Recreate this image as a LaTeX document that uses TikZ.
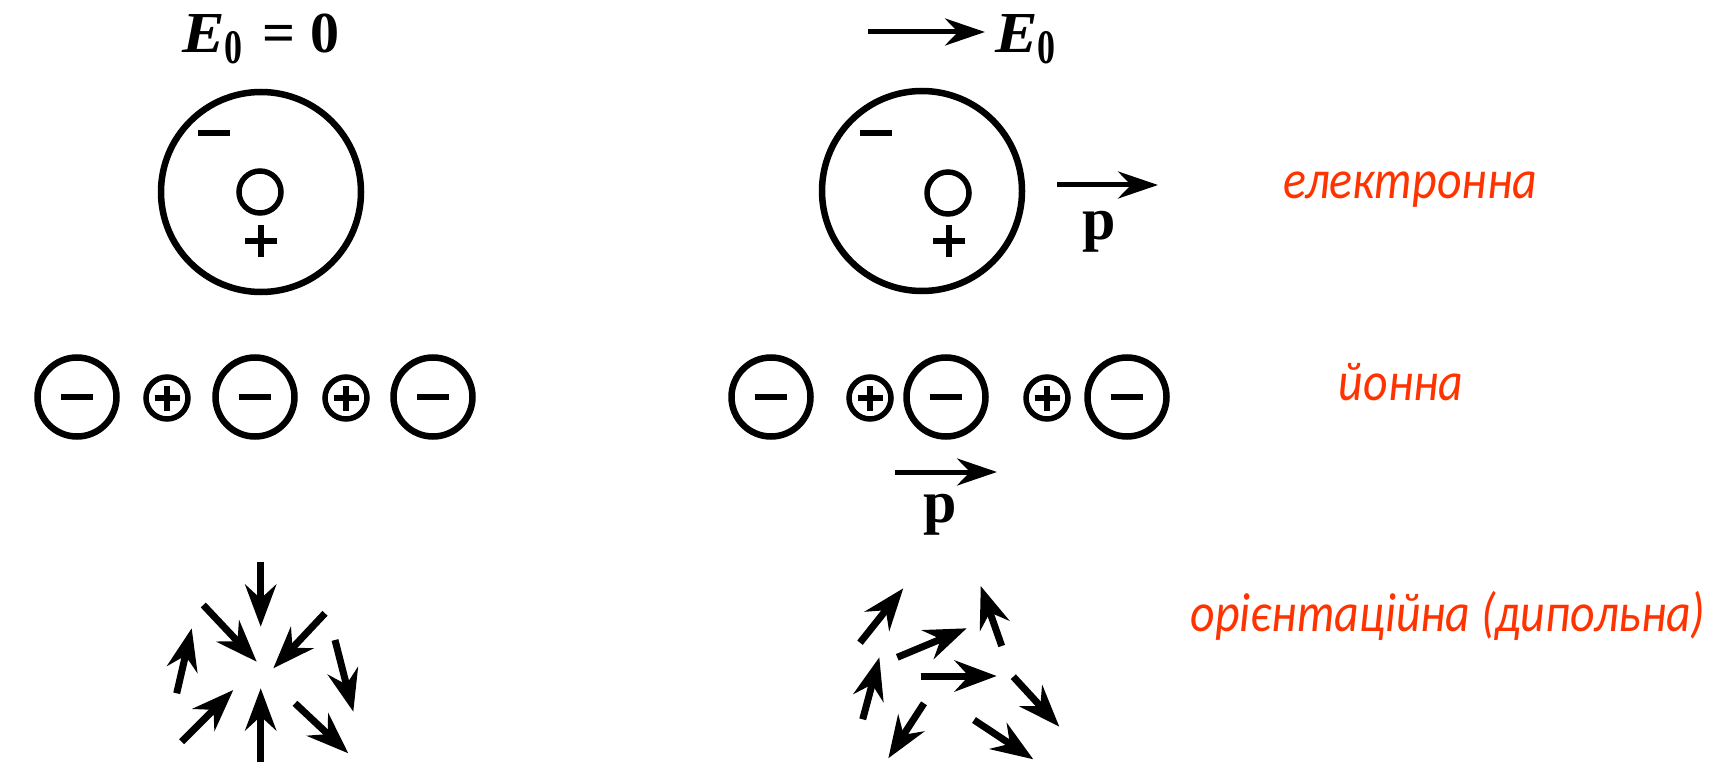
\documentclass[tikz,border=0pt]{standalone}
\usepackage{fontspec}
\usepackage{graphicx}
\setmainfont{Liberation Serif}
\newfontfamily\capfont{Carlito}
\usetikzlibrary{arrows.meta}
\definecolor{labelred}{RGB}{255,51,0}

\newcommand{\narrow}[1]{\scalebox{0.87}[1]{#1}}
\newcommand{\fieldE}{\scalebox{1.1}[1]{\itshape E}}

\tikzset{
  shell/.style={circle, draw, line width=6.5pt, minimum size=200pt, inner sep=0pt},
  nucleus/.style={circle, draw, line width=5.5pt, minimum size=42pt, inner sep=0pt},
  anion/.style={circle, draw, line width=6.5pt, minimum size=79pt, inner sep=0pt},
  cation/.style={circle, draw, line width=5.5pt, minimum size=42pt, inner sep=0pt},
  bar/.style={line width=6.5pt},
  thinbar/.style={line width=5.5pt},
  vec/.style={line width=5pt, -{Stealth[length=40pt,width=27pt,inset=13pt]}},
  dip/.style={line width=7pt, -{Stealth[length=42pt,width=31pt,inset=14pt]}},
  sym/.style={font=\fontsize{58}{62}\selectfont\bfseries, inner sep=0pt, anchor=base west},
  pvec/.style={font=\fontsize{60}{64}\selectfont\bfseries, inner sep=0pt, anchor=base},
  kind/.style={font=\capfont\itshape\fontsize{55}{64}\selectfont, text=labelred, inner sep=0pt, anchor=base},
}

\begin{document}
\begin{tikzpicture}[x=1pt, y=-1pt]
  \useasboundingbox[fill=white] (0,0) rectangle (1720,762);

  % ---- field labels ----
  \node[sym] (fieldoff) at (182,53)
    {\fieldE\raisebox{-11pt}{\scalebox{0.62}[0.83]{0}}\hspace{20pt}=\hspace{15pt}0};
  \node[sym] (fieldon) at (995,53)
    {\fieldE\raisebox{-11pt}{\scalebox{0.62}[0.83]{0}}};
  \coordinate (fieldtail) at (868,32);
  \draw[vec] (fieldtail) -- ([xshift=-10pt]fieldon.west |- fieldtail);

  % ---- electronic polarisation ----
  \node[shell] (shellL) at (261,192) {};
  \node[nucleus] (nucL) at (260,192) {};
  \draw[bar] (198,133) -- (230,133);
  \draw[thinbar] (245,241) -- (277,241) (261,225) -- (261,257);

  \node[shell] (shellR) at (922,191) {};
  \node[nucleus] (nucR) at (948,193) {};
  \draw[bar] (860,133) -- (892,133);
  \draw[thinbar] (933,241) -- (965,241) (949,225) -- (949,257);

  \coordinate (pA1) at (1057,185);
  \coordinate (pA2) at (1158,185);
  \draw[vec] (pA1) -- (pA2);
  \node[pvec] (pA) at (1099,239) {p};

  % ---- ionic polarisation ----
  \foreach \nm/\x in {la/77, lb/255, lc/433, ra/771, rb/946, rc/1127} {
    \node[anion] (\nm) at (\x,397) {};
    \draw[bar] ([xshift=-16pt]\nm.center) -- ([xshift=16pt]\nm.center);
  }
  \foreach \nm/\x in {lp/167, lq/346, rp/870, rq/1047} {
    \node[cation] (\nm) at (\x,398) {};
    \draw[thinbar] ([xshift=-12.5pt]\nm.center) -- ([xshift=12.5pt]\nm.center)
                   ([yshift=-12.5pt]\nm.center) -- ([yshift=12.5pt]\nm.center);
  }
  \coordinate (pB1) at (895,472);
  \coordinate (pB2) at (997,472);
  \draw[vec] (pB1) -- (pB2);
  \node[pvec] (pB) at (940,522) {p};

  % ---- orientational polarisation: random dipoles ----
  \draw[dip] (260.7,561.7) -- (260.7,626.7);
  \draw[dip] (203.3,605.0) -- (256.7,661.7);
  \draw[dip] (325.0,613.3) -- (273.3,668.3);
  \draw[dip] (176.7,693.3) -- (191.7,628.3);
  \draw[dip] (335.0,640.0) -- (353.3,711.7);
  \draw[dip] (181.7,741.7) -- (233.3,690.0);
  \draw[dip] (260.7,762.0) -- (260.7,688.3);
  \draw[dip] (295.0,703.3) -- (348.3,753.3);

  % ---- orientational polarisation: partly aligned dipoles ----
  \draw[dip] (860.0,642.7) -- (903.3,588.3);
  \draw[dip] (897.3,657.3) -- (966.7,628.3);
  \draw[dip] (1001.7,646.0) -- (980.7,586.0);
  \draw[dip] (862.7,719.3) -- (879.3,657.3);
  \draw[dip] (920.7,676.0) -- (996.7,676.0);
  \draw[dip] (1013.3,676.7) -- (1059.3,726.7);
  \draw[dip] (924.0,703.3) -- (888.3,758.3);
  \draw[dip] (974.0,720.0) -- (1033.3,759.3);

  % ---- mechanism names ----
  \node[kind] (electronic) at (1410,198) {\narrow{електронна}};
  \node[kind] (ionic) at (1401,400) {\narrow{йонна}};
  \node[kind] (orient) at (1448,631) {\narrow{орієнтаційна (дипольна)}};
\end{tikzpicture}
\end{document}
